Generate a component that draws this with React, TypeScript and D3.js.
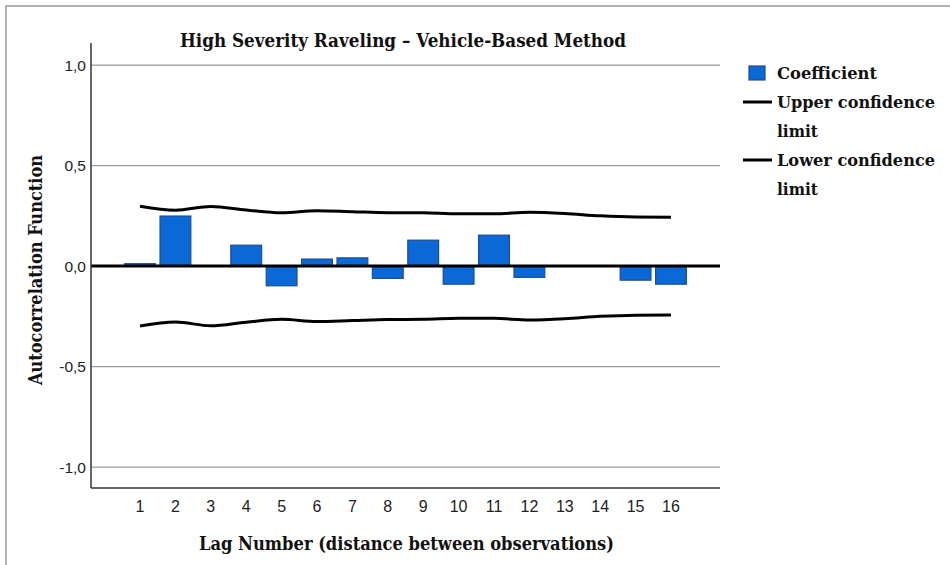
import React from "react";
import * as d3 from "d3";

const lags = [1, 2, 3, 4, 5, 6, 7, 8, 9, 10, 11, 12, 13, 14, 15, 16];
const coefficients = [0.012, 0.249, 0.0, 0.104, -0.098, 0.035, 0.041, -0.061, 0.129, -0.09, 0.154, -0.056, 0.0, 0.0, -0.07, -0.09];
const upperLimit = [0.298, 0.278, 0.297, 0.279, 0.265, 0.276, 0.271, 0.266, 0.265, 0.26, 0.26, 0.268, 0.262, 0.25, 0.244, 0.243];
const lowerLimit = upperLimit.map((v) => -v);
const yTicks = [1.0, 0.5, 0.0, -0.5, -1.0];

const W = 950;
const H = 565;
const left = 91;
const right = 720;
const top = 43;
const bottom = 488;

const serif = "'DejaVu Serif', 'Liberation Serif', serif";
const sans = "'Liberation Sans', Arial, sans-serif";

export default function App() {
  const x = d3.scaleLinear().domain([-0.385, 17.385]).range([left, right]);
  const y = d3.scaleLinear().domain([-1.104, 1.11]).range([bottom, top]);
  const step = x(2) - x(1);
  const bw = step * 0.87;
  const fmt = (v: number) => d3.format(".1f")(v).replace(".", ",").replace("−", "-");

  const line = d3
    .line<number>()
    .x((_, i) => x(lags[i]))
    .y((d) => y(d))
    .curve(d3.curveMonotoneX);

  const T = (props: any) => (
    <text fontFamily={serif} fontWeight="bold" fontSize={18} fill="#111" lengthAdjust="spacingAndGlyphs" {...props} />
  );

  return (
    <svg width={W} height={H} style={{ position: "absolute", left: 0, top: 0, background: "#fff" }}>
      <rect x={6} y={6} width={W} height={H} fill="none" stroke="#9a9a9a" strokeWidth={1.5} />
      {/* gridlines */}
      {yTicks.map((t) =>
        t === 0 ? null : (
          <line key={t} x1={left} x2={right} y1={y(t)} y2={y(t)} stroke="#9a9a9a" strokeWidth={1.2} />
        )
      )}
      {/* tick labels */}
      {yTicks.map((t) => (
        <text key={"l" + t} x={left - 5} y={y(t)} dy="0.35em" textAnchor="end" fontFamily={sans} fontSize={15.5} fill="#222">
          {fmt(t)}
        </text>
      ))}
      {lags.map((l) => (
        <text key={"x" + l} x={x(l)} y={512} textAnchor="middle" fontFamily={sans} fontSize={16} fill="#222">
          {l}
        </text>
      ))}
      {/* bars */}
      {coefficients.map((c, i) => {
        const y0 = y(0);
        const y1 = y(c);
        const h = Math.abs(y1 - y0);
        if (h < 0.5) return null;
        return (
          <rect
            key={"b" + i}
            x={x(lags[i]) - bw / 2}
            y={Math.min(y0, y1)}
            width={bw}
            height={h}
            fill="#0a69d6"
            stroke="#1d4c96"
            strokeWidth={1.2}
          />
        );
      })}
      {/* confidence lines */}
      <path d={line(upperLimit) || ""} fill="none" stroke="#000" strokeWidth={3} />
      <path d={line(lowerLimit) || ""} fill="none" stroke="#000" strokeWidth={3} />
      {/* zero line */}
      <line x1={left} x2={right} y1={y(0)} y2={y(0)} stroke="#000" strokeWidth={3} />
      {/* axes */}
      <line x1={left} x2={left} y1={top} y2={bottom} stroke="#333" strokeWidth={1.5} />
      <line x1={left} x2={right} y1={bottom} y2={bottom} stroke="#333" strokeWidth={1.5} />
      {/* titles */}
      <T x={180} y={47} textLength={446}>High Severity Raveling – Vehicle-Based Method</T>
      <T x={199} y={550} textLength={415}>Lag Number (distance between observations)</T>
      <T transform={`translate(42,385) rotate(-90)`} x={0} y={0} textLength={230}>Autocorrelation Function</T>
      {/* legend */}
      <rect x={749} y={66} width={16} height={14} fill="#0a69d6" stroke="#1d4c96" strokeWidth={1.2} />
      <T x={777} y={79} fontSize={16.5} textLength={100}>Coefficient</T>
      <line x1={743} x2={772} y1={102} y2={102} stroke="#000" strokeWidth={3} />
      <T x={777} y={108} fontSize={16} textLength={158}>Upper confidence</T>
      <T x={777} y={137} fontSize={16.5} textLength={41}>limit</T>
      <line x1={743} x2={772} y1={160} y2={160} stroke="#000" strokeWidth={3} />
      <T x={777} y={166} fontSize={16} textLength={158}>Lower confidence</T>
      <T x={777} y={195} fontSize={16.5} textLength={41}>limit</T>
    </svg>
  );
}
